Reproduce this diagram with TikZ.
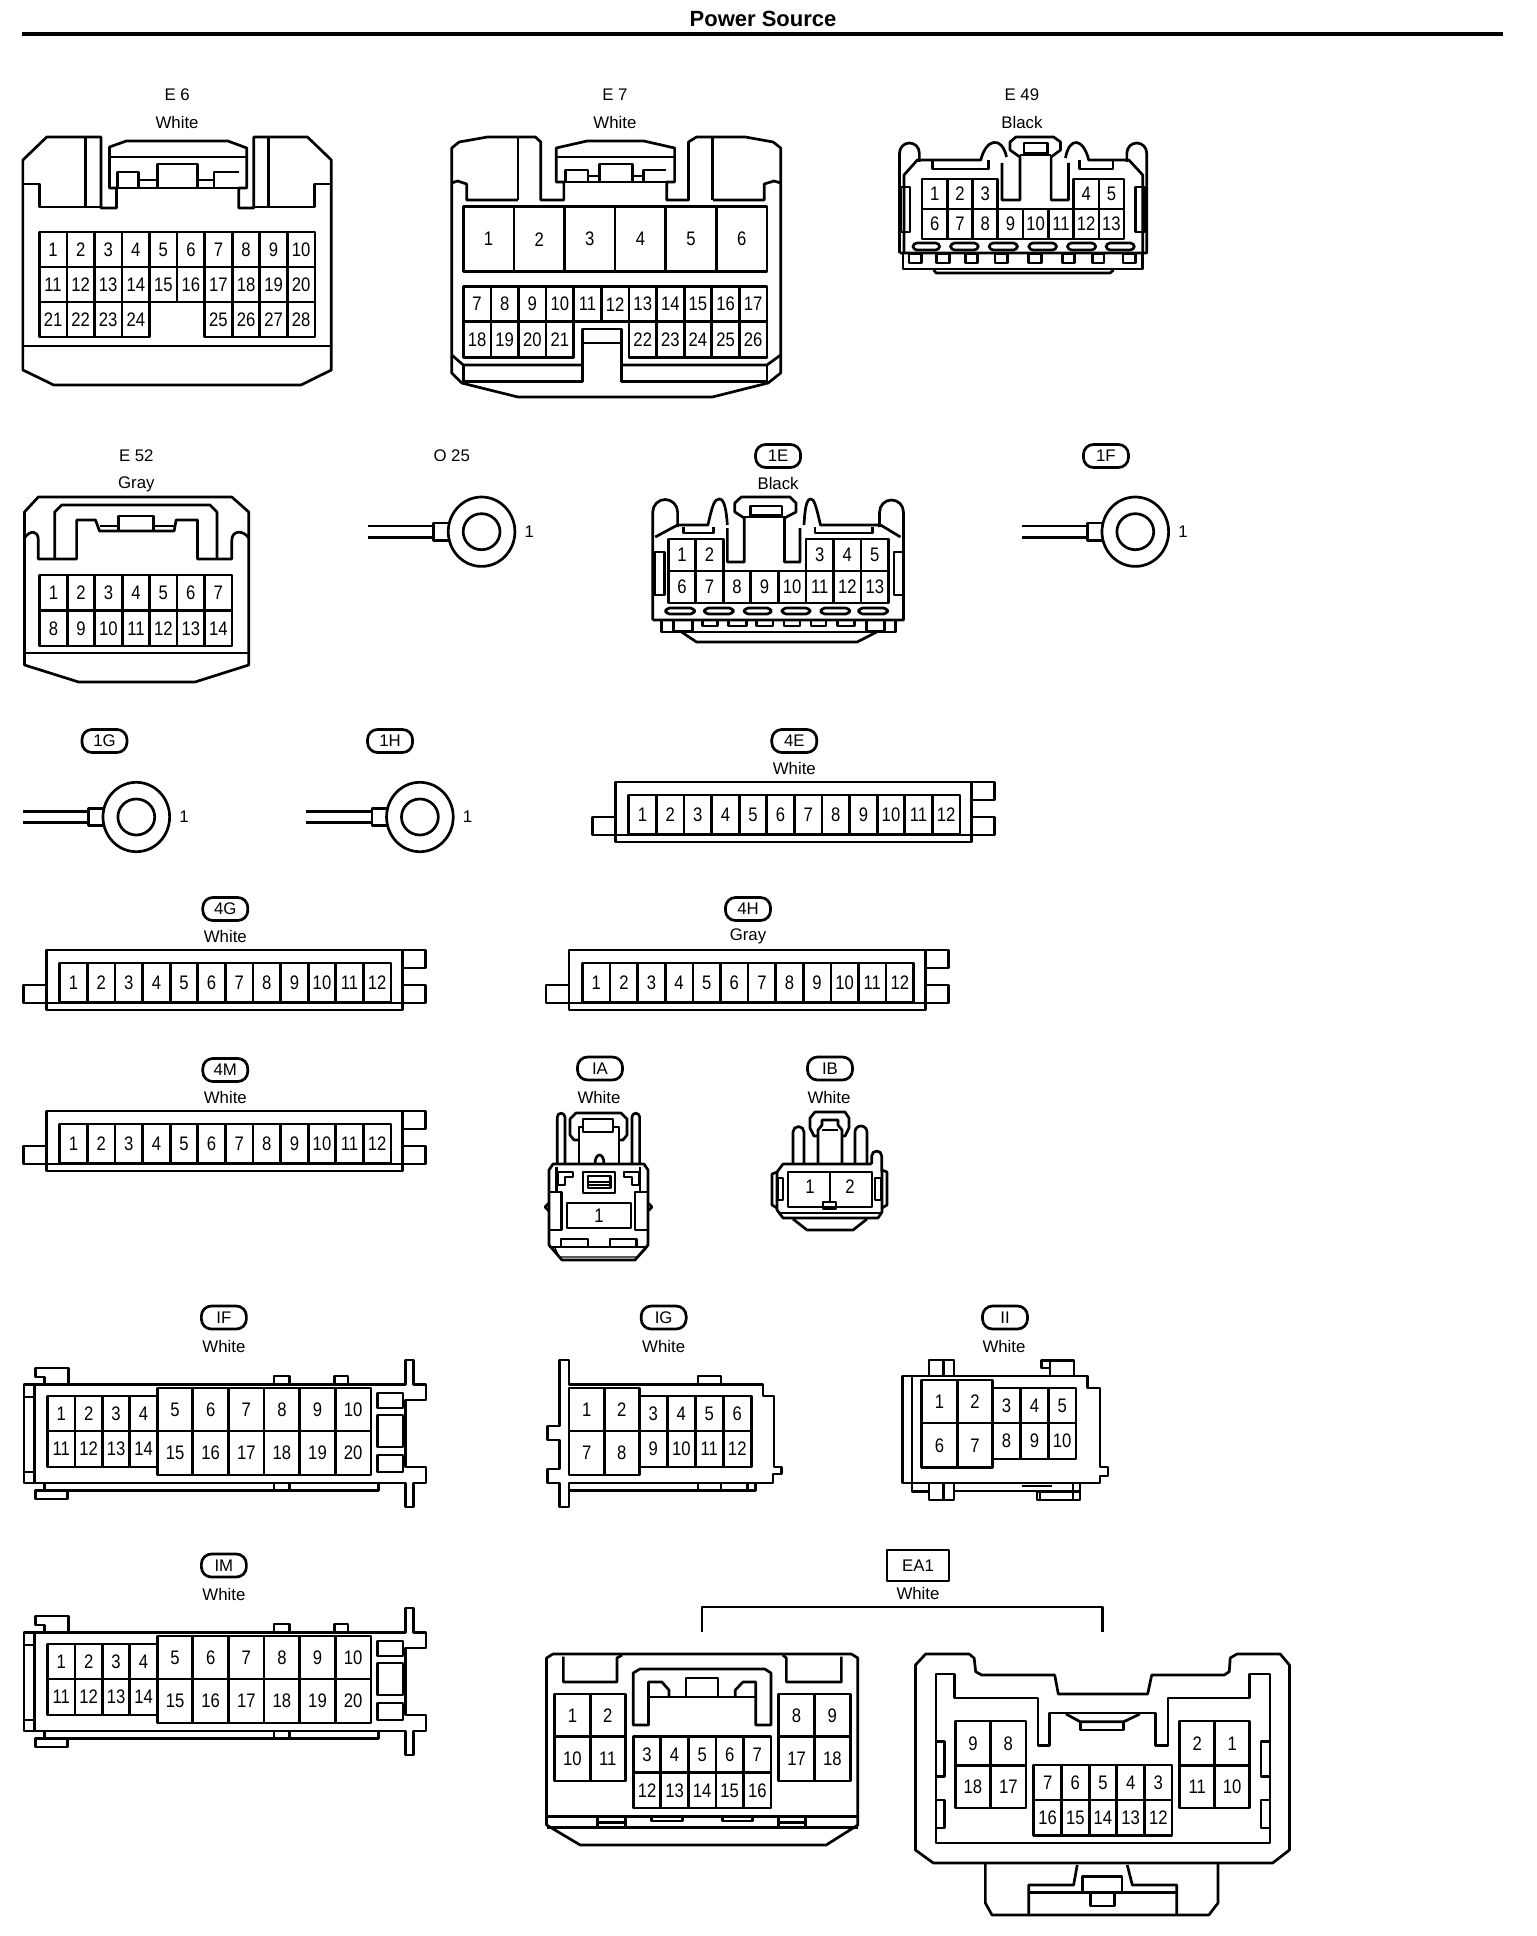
\documentclass[tikz,border=0pt]{standalone}
\usepackage{fontspec}
\setmainfont{Liberation Sans}
\newfontfamily\pinfont[FakeStretch=0.85]{Liberation Sans}
\tikzset{
  pinnum/.style={font=\pinfont\fontsize{9.8}{10}\selectfont},
  lab/.style={font=\fontsize{8.4}{10}\selectfont},
  pill/.style={draw,lab,rounded corners=5pt,minimum width=22.5pt,minimum height=11.5pt},
  tagbox/.style={draw,lab,minimum width=31pt,minimum height=15.5pt},
  headline/.style={font=\bfseries\fontsize{11}{12}\selectfont},
  narrow/.style={xscale=0.995},
  narrowb/.style={shift={(2.6,0)},xscale=0.995},
  narrowc/.style={shift={(7.5,0)},xscale=0.9906}
}
% one row of numbered cells: tag, x, y, cell width, cell height, numbers
\newcommand{\pinrow}[6]{%
  \foreach \pinno [count=\idx from 0] in {#6} {
    \draw [black] ({#2+\idx*#4},#3) rectangle ++(#4,#5);
    \node [pinnum] (#1-\pinno) at ({#2+(\idx+0.5)*#4},{#3+#5/2}) {\pinno};
  }}
% ring terminal: tag, x of the wire end, y of the ring centre
\newcommand{\ringterm}[3]{%
  \draw [black] (#2,#3-5.7) -- ++(66,0);
  \draw [black] (#2,#3+5.7) -- ++(66,0);
  \draw [black] (#2+81,#3-8.7) -- (#2+66,#3-8.7) -- (#2+66,#3+8.7) -- (#2+81,#3+8.7);
  \draw [black] (#2+114,#3) circle [x radius=33.5,y radius=34.7];
  \draw [black] (#2+114,#3) circle [x radius=18.5,y radius=18];
  \node [lab] (#1pin) at (#2+162,#3) {1};}
% long twelve way block: tag, colour, shift
\newcommand{\flatconn}[4]{%
  \begin{scope}[shift={(#3,#4)}]
  \node [pill] (#1tag) at (798,741) {#1};
  \node [lab] (#1col) at (798,768) {#2};
  \draw [black] (619,782) rectangle (975.4,842);
  \draw [black] (975.4,782) -- (998.5,782) -- (998.5,800) -- (975.4,800);
  \draw [black] (975.4,817) -- (998.5,817) -- (998.5,835) -- (975.4,835);
  \draw [black] (619,817) -- (596,817) -- (596,835) -- (619,835);
  \draw [black] (619,835) -- (975.4,835);
  \pinrow{#1}{632.5}{795}{27.6}{39}{1,...,12}
  \end{scope}}
% long twenty way block: tag, shift
\newcommand{\clipconn}[2]{%
  \begin{scope}[shift={(0,#2)}]
  \node [pill] (#1tag) at (225,1317.5) {#1};
  \node [lab] (#1col) at (225,1346) {White};
  \draw [black] (24,1384.5) -- (407.7,1384.5) -- (407.7,1360) -- (415.4,1360) -- (415.4,1384.5) -- (428,1384.5) -- (428,1400) -- (407.7,1400) -- (407.7,1467) -- (428,1467) -- (428,1483) -- (415.4,1483) -- (415.4,1507) -- (407.7,1507) -- (407.7,1483) -- (24,1483) -- cycle;
  \draw [black] (35,1384.5) -- (35,1483);
  \draw [black] (24,1397) -- (35,1397);
  \draw [black] (24,1472) -- (35,1472);
  \draw [black] (69,1384) -- (69,1368) -- (36,1368) -- (36,1377) -- (45,1377) -- (45,1384);
  \draw [black] (45,1483) -- (45,1490.7) -- (380.5,1490.7) -- (380.5,1483);
  \draw [black] (36,1490.7) rectangle (67.7,1499);
  \draw [black] (275.4,1384) -- (275.4,1376) -- (290.8,1376) -- (290.8,1384);
  \draw [black] (336,1384) -- (336,1376) -- (349.7,1376) -- (349.7,1384);
  \draw [black] (275.4,1483) -- (275.4,1490.7);
  \draw [black] (290.8,1483) -- (290.8,1490.7);
  \draw [black] (379.5,1393) rectangle (405,1408);
  \draw [black] (379.5,1415) rectangle (405,1447);
  \draw [black] (379.5,1455) rectangle (405,1472);
  \pinrow{#1}{47.7}{1396}{27.6}{35}{1,2,3,4}
  \pinrow{#1}{47.7}{1431}{27.6}{36}{11,12,13,14}
  \pinrow{#1}{158}{1388}{35.8}{43}{5,6,7,8,9,10}
  \pinrow{#1}{158}{1431}{35.8}{44}{15,16,17,18,19,20}
  \end{scope}}
\begin{document}
\begin{tikzpicture}[x=0.5pt,y=-0.5pt,line width=1.35pt,line join=round]
\tikzstyle{every node}+=[inner sep=0pt]
\useasboundingbox (0,0) rectangle (1536,1936);
\node [headline] (heading) at (763,18.5) {Power Source};
\draw [black,line width=2.4pt] (22.2,34) -- (1503,34);
\begin{scope}[narrow]
% E 6
\node [lab] (E6tag) at (178,95) {E 6};
\node [lab] (E6col) at (178,123) {White};
\draw [black] (23,160) -- (47,137) -- (101.5,137) -- (101.5,208) -- (117,208) -- (117,188) -- (110,188) -- (110,147) -- (127,141) -- (229,141) -- (248,148) -- (248,188) -- (240,188) -- (240,208) -- (255,208) -- (255,137) -- (309,137) -- (333,160) -- (333,370) -- (302.5,385) -- (54,385) -- (23,370) -- cycle;
\draw [black] (23,184) -- (39.5,184) -- (39.5,207) -- (101.5,207);
\draw [black] (333,184) -- (316,184) -- (316,207) -- (255,207);
\draw [black] (86,137) -- (86,207);
\draw [black] (270,137) -- (270,207);
\draw [black] (110,157) -- (248,157);
\draw [black] (110,188) -- (248,188);
\draw [black] (118,188) -- (118,172) -- (139.5,172) -- (139.5,188);
\draw [black] (158,188) -- (158,164) -- (198.5,164) -- (198.5,188);
\draw [black] (215,188) -- (215,172) -- (240,172);
\draw [black] (139.5,180) -- (158,180);
\draw [black] (198.5,180) -- (215,180);
\draw [black] (23,346) -- (333,346);
\pinrow{E6}{39.5}{232}{27.7}{35}{1,...,10}
\pinrow{E6}{39.5}{267}{27.7}{35}{11,...,20}
\pinrow{E6}{39.5}{302}{27.7}{35}{21,22,23,24}
\pinrow{E6}{205.7}{302}{27.7}{35}{25,26,27,28}
% E 7
\node [lab] (E7tag) at (618,95) {E 7};
\node [lab] (E7col) at (618,123) {White};
\draw [black] (454,148) -- (461.5,142) -- (490,137) -- (538,137) -- (543.5,142) -- (543.5,200) -- (566.7,200) -- (566.7,182) -- (559,182) -- (559,148) -- (590,141) -- (647,141) -- (678,148) -- (678,182) -- (670,182) -- (670,200) -- (692,200) -- (692,142) -- (700,137) -- (749,137) -- (777,142) -- (784.6,148) -- (784.6,373) -- (772,383) -- (716,397) -- (520.5,397) -- (464,383) -- (454,373) -- cycle;
\draw [black] (520.5,137) -- (520.5,200);
\draw [black] (716.4,137) -- (716.4,200);
\draw [black] (454,183) -- (460,181) -- (469,184) -- (469,200) -- (520.5,200);
\draw [black] (784.6,183) -- (778,181) -- (768,184) -- (768,200) -- (716.4,200);
\draw [black] (559,157) -- (678,157);
\draw [black] (566.7,182) -- (670,182);
\draw [black] (568,182) -- (568,170) -- (591,170) -- (591,182);
\draw [black] (602.5,182) -- (602.5,164) -- (636,164) -- (636,182);
\draw [black] (647,182) -- (647,170) -- (669,170);
\draw [black] (591,176) -- (602.5,176);
\draw [black] (636,176) -- (647,176);
\pinrow{E7}{465.6}{206.7}{50.87}{65}{1,...,6}
\pinrow{E7}{465.6}{286.7}{27.75}{35}{7,...,17}
\pinrow{E7}{465.6}{321.7}{27.75}{35.6}{18,19,20,21}
\pinrow{E7}{632.1}{321.7}{27.75}{35.6}{22,23,24,25,26}
\draw [black] (585.6,381.7) -- (585.6,329) -- (624.6,329) -- (624.6,381.7);
\draw [black] (585.6,343) -- (624.6,343);
\draw [black] (465.6,381.7) -- (585.6,381.7);
\draw [black] (624.6,381.7) -- (770.8,381.7);
\draw [black] (454,355) -- (465.6,365) -- (585.6,365);
\draw [black] (784.6,355) -- (770.8,365) -- (624.6,365);
\draw [black] (465.6,365) -- (465.6,381.7);
\draw [black] (770.8,365) -- (770.8,381.7);
\end{scope}
% E 49
\begin{scope}[narrowc]
\node [lab] (E49tag) at (1024,95) {E 49};
\node [lab] (E49col) at (1024,123) {Black};
\draw [black] (900.5,253) -- (900.5,153) arc (180:360:10) -- (920.5,162);
\draw [black] (1130,162) -- (1130,153) arc (180:360:10) -- (1150,253) -- (900.5,253);
\draw [black] (905,253) -- (905,175) -- (918.5,160) -- (982.5,160) .. controls (988,138) and (1004,136) .. (1008.5,157);
\draw [black] (1146,253) -- (1146,175) -- (1132,160) -- (1091.5,160) .. controls (1086,138) and (1072,136) .. (1068,158);
\draw [black] (934,160) -- (934,169) -- (990,169) -- (990,160);
\draw [black] (1082,160) -- (1082,169) -- (1116,169) -- (1116,160);
\draw [black] (1004,163) -- (1004,200) -- (1022,200) -- (1022,157) -- (1012,150) -- (1012,142) -- (1018,137) -- (1056,137) -- (1063,142) -- (1063,150) -- (1053.5,157) -- (1053.5,200) -- (1071,200) -- (1071,163);
\draw [black] (1022,155) -- (1053.5,155);
\draw [black] (1026,155) -- (1026,143) -- (1050,143) -- (1050,155);
\draw [black] (1026,153) -- (1050,153);
\draw [black] (902,187) rectangle (911,232);
\draw [black] (1139,187) rectangle (1148,232);
\foreach \slotx/\slotw in {914/27,952/28,991/28.5,1031/28,1070/28.6,1109/28.5} {
  \draw [black,rounded corners=2pt] (\slotx,243) rectangle ++(\slotw,7);
}
\draw [black] (904,254) -- (904,269) -- (1146,269) -- (1146,254);
\draw [black] (935,270) -- (937.4,273) -- (1113,273) -- (1116.6,270);
\foreach \tabx/\tabw in {910/13,938/13,967/12,997/12.5,1031/12.6,1065/12,1095/12,1126/13} {
  \draw [black] (\tabx,254) rectangle ++(\tabw,9);
}
\pinrow{E49}{923.2}{179}{25.5}{30}{1,2,3}
\pinrow{E49}{1076.2}{179}{25.5}{30}{4,5}
\pinrow{E49}{923.2}{209}{25.5}{30}{6,...,13}
\end{scope}
\begin{scope}[narrow]
% E 52
\node [lab] (E52tag) at (137,456) {E 52};
\node [lab] (E52col) at (137,484) {Gray};
\draw [black] (38.5,497) -- (233,497) -- (250,512) -- (250,665) -- (196,682) -- (79,682) -- (24.6,665) -- (24.6,512) -- cycle;
\draw [black] (24.6,653) -- (250,653);
\draw [black] (24.6,538) .. controls (30,530) and (38.5,530) .. (38.5,540) -- (38.5,559) -- (77,559) -- (77,520) -- (96,520) -- (100,531) -- (175,531) -- (177,520) -- (198.5,520) -- (198.5,559) -- (233,559) -- (233,540) .. controls (233,530) and (245,530) .. (250,538);
\draw [black] (55,559) -- (55,512) -- (62,505) -- (211,505) -- (218,512) -- (218,559);
\draw [black] (119,531) -- (119,516) -- (154,516) -- (154,531);
\draw [black] (100,526) -- (119,526);
\draw [black] (154,526) -- (175,526);
\pinrow{E52}{40}{575}{27.6}{35.7}{1,...,7}
\pinrow{E52}{40}{610.7}{27.6}{35.3}{8,...,14}
% ring terminals
\node [lab] (O25tag) at (454,456) {O 25};
\ringterm{O25}{370}{531.7}
\node [pill] (1Ftag) at (1111.5,456) {1F};
\ringterm{1F}{1027}{531.7}
\node [pill] (1Gtag) at (105,741) {1G};
\ringterm{1G}{23}{817}
\node [pill] (1Htag) at (392,741) {1H};
\ringterm{1H}{308}{817}
% 1E
\node [pill] (1Etag) at (782,456) {1E};
\node [lab] (1Ecol) at (782,483) {Black};
\draw [black] (656,620) -- (656,512) arc (180:360:12.5) -- (681,527);
\draw [black] (884,527) -- (884,512) arc (180:360:12) -- (908,620) -- (656,620);
\draw [black] (658.5,537) -- (681,525) -- (711.5,525) .. controls (716,505) and (718,499) .. (723,499) .. controls (728,499) and (730,510) .. (731,525);
\draw [black] (905,537) -- (885,525) -- (824.6,525) .. controls (820,505) and (818,499) .. (815,499) .. controls (810,499) and (809,510) .. (808,525);
\draw [black] (687,527) -- (687,533) -- (717,533) -- (717,527);
\draw [black] (819,527) -- (819,533) -- (877,533) -- (877,527);
\draw [black] (731,528) -- (731,562) -- (748,562) -- (748,518) -- (738.5,512) -- (738.5,503) -- (745,497) -- (794,497) -- (800,503) -- (800,512) -- (788.5,518) -- (788.5,562) -- (804,562) -- (804,528);
\draw [black] (748,517) -- (788.5,517);
\draw [black] (754,517) -- (754,506) -- (786,506) -- (786,517);
\draw [black] (754,515) -- (786,515);
\draw [black] (658,552) rectangle (668,595);
\draw [black] (898.5,552) rectangle (908,595);
\foreach \slotx/\slotw in {669/29,708/29,748/27,786/28,825/29,863/29} {
  \draw [black,rounded corners=2pt] (\slotx,608) rectangle ++(\slotw,6);
}
\draw [black] (665,620) -- (665,632) -- (900,632) -- (900,620);
\draw [black] (685,632) -- (700,642) -- (861.5,642) -- (881,632);
\foreach \tabx/\tabw/\tabh in {677/19/11,706/15/6,732/18/6,760/17/6,788/16/6,815/15/6,842/17/6,871/18/11} {
  \draw [black] (\tabx,620) rectangle ++(\tabw,\tabh);
}
\pinrow{1E}{671.5}{539}{27.7}{32}{1,2}
\pinrow{1E}{810}{539}{27.7}{32}{3,4,5}
\pinrow{1E}{671.5}{571}{27.7}{32}{6,...,13}
\end{scope}
% twelve way blocks
\flatconn{4E}{White}{-3.7}{0}
\flatconn{4G}{White}{-572.7}{168}
\flatconn{4H}{Gray}{-50}{168}
\flatconn{4M}{White}{-572.7}{329}
% IA
\node [pill] (IAtag) at (600,1068.5) {IA};
\node [lab] (IAcol) at (599,1097) {White};
\draw [black] (557.3,1164) -- (557.3,1117) arc (180:360:3.8) -- (565,1164);
\draw [black] (632,1164) -- (632,1117) arc (180:360:3.8) -- (639.6,1164);
\draw [black] (579,1140) -- (574,1140) -- (570,1135) -- (570,1119) -- (576,1113) -- (621,1113) -- (627,1119) -- (627,1135) -- (623,1140) -- (619,1140);
\draw [black] (583,1119) rectangle (613,1132);
\draw [black] (579,1164) -- (579,1127) -- (583,1127);
\draw [black] (619,1164) -- (619,1127) -- (613,1127);
\draw [black] (595,1164) .. controls (595,1152) and (604,1152) .. (604,1164);
\draw [black] (549,1245) -- (549,1170) -- (553,1164) -- (644,1164) -- (648,1170) -- (648,1245) -- (635,1260) -- (562,1260) -- cycle;
\draw [black] (556.7,1167) -- (556.7,1192);
\draw [black] (640,1167) -- (640,1192);
\draw [black] (549,1192) -- (561.7,1192) -- (561.7,1230) -- (549,1230);
\draw [black] (648,1192) -- (635,1192) -- (635,1230) -- (648,1230);
\draw [black] (549,1203) -- (545,1207) -- (549,1211);
\draw [black] (648,1203) -- (652,1207) -- (648,1211);
\draw [black] (583,1172) rectangle (615,1193);
\draw [black] (588,1176) rectangle (610.7,1188);
\draw [black] (588,1182) -- (610.7,1182);
\draw [black] (588,1185) -- (610.7,1185);
\draw [black] (558,1172) -- (573,1172) -- (573,1177) -- (565,1177) -- (565,1185) -- (558,1185) -- cycle;
\draw [black] (639,1172) -- (624,1172) -- (624,1177) -- (632,1177) -- (632,1185) -- (639,1185) -- cycle;
\node [draw,minimum width=32pt,minimum height=12.5pt,pinnum] (IA-1) at (599,1215.5) {1};
\draw [black] (561,1247) -- (561,1239) -- (588,1239) -- (588,1247);
\draw [black] (610,1247) -- (610,1239) -- (636.7,1239) -- (636.7,1247);
\draw [black] (549,1247) -- (648,1247);
\draw [black,line width=0.7pt] (555,1248) -- (559,1257) -- (638,1257) -- (646.7,1248);
% IB
\node [pill] (IBtag) at (830,1068.5) {IB};
\node [lab] (IBcol) at (829,1097) {White};
\draw [black] (818,1136) -- (814,1136) -- (810,1128) -- (810,1118) -- (815,1112) -- (845,1112) -- (849,1118) -- (849,1128) -- (845,1136) -- (842,1136);
\draw [black] (818,1164) -- (818,1130) -- (822,1125) -- (822,1120) -- (838,1120) -- (838,1125) -- (842,1130) -- (842,1164);
\draw [black] (822,1130) -- (838,1130);
\draw [black] (793,1164) -- (793,1132) arc (180:360:5.5) -- (804,1164);
\draw [black] (855,1164) -- (855,1132) arc (180:360:6) -- (867,1164);
\draw [black] (871.7,1164) -- (871.7,1156) arc (180:360:5) -- (881.7,1172);
\draw [black] (777,1172) -- (783,1164) -- (871.7,1164);
\draw [black] (777,1172) -- (777,1210) -- (783,1218) -- (878,1218) -- (882,1212) -- (882,1172);
\draw [black] (777,1172) -- (772,1174) -- (772,1205) -- (777,1208);
\draw [black] (882,1170) -- (887,1172) -- (887,1205) -- (882,1208);
\draw [black] (778,1178) rectangle (783,1200);
\draw [black] (875,1178) rectangle (881,1200);
\draw [black] (788,1172) rectangle (872,1207);
\draw [black] (830,1172) -- (830,1202);
\draw [black] (823,1202) rectangle (836,1209);
\node [pinnum] (IB-1) at (810,1187) {1};
\node [pinnum] (IB-2) at (850,1187) {2};
\draw [black] (779,1213) -- (882,1213);
\draw [black] (793,1219) -- (807,1230) -- (853,1230) -- (867,1219);
\begin{scope}[narrow]
% IF, IM
\clipconn{IF}{0}
\clipconn{IM}{248}
% IG
\node [pill] (IGtag) at (667,1317.5) {IG};
\node [lab] (IGcol) at (667,1346) {White};
\draw [black] (562.5,1360) -- (572,1360) -- (572,1384.5) -- (766.7,1384.5) -- (766.7,1396) -- (778,1396) -- (778,1467) -- (785.6,1467) -- (785.6,1474) -- (777,1474) -- (777,1483) -- (572,1483) -- (572,1507) -- (562.5,1507) -- (562.5,1483) -- (550,1483) -- (550,1469) -- (562.5,1469) -- (562.5,1440) -- (550,1440) -- (550,1426) -- (562.5,1426) -- cycle;
\draw [black] (701.5,1384) -- (701.5,1376) -- (724.6,1376) -- (724.6,1384);
\draw [black] (572,1490.7) -- (759,1490.7) -- (759,1483);
\draw [black] (701.5,1483) -- (701.5,1490.7);
\draw [black] (724.6,1483) -- (724.6,1490.7);
\draw [black] (751,1483) -- (751,1490.7);
\pinrow{IG}{572}{1388}{35.3}{43}{1,2}
\pinrow{IG}{572}{1431}{35.3}{44}{7,8}
\pinrow{IG}{642.6}{1396}{28.1}{35}{3,4,5,6}
\pinrow{IG}{642.6}{1431}{28.1}{36}{9,10,11,12}
\end{scope}
% II
\node [pill] (IItag) at (1005,1317.5) {II};
\node [lab] (IIcol) at (1004,1346) {White};
\draw [black] (902.3,1376) -- (1087.7,1376) -- (1087.7,1388) -- (1100,1388) -- (1100,1467) -- (1108,1467) -- (1108,1476) -- (1100,1476) -- (1100,1483) -- (902.3,1483) -- cycle;
\draw [black] (912,1376) -- (912,1491.5) -- (929,1491.5);
\draw [black] (954,1491) -- (1037,1491);
\draw [black] (929,1376) -- (929,1360) -- (954,1360) -- (954,1376);
\draw [black] (943.3,1360) -- (943.3,1376);
\draw [black] (1050,1376) -- (1050,1368) -- (1041.7,1368) -- (1041.7,1360.7) -- (1074,1360.7) -- (1074,1376);
\draw [black] (1050,1360.7) -- (1050,1368);
\draw [black] (929,1483) -- (929,1500) -- (954,1500) -- (954,1483);
\draw [black] (943.3,1483) -- (943.3,1500);
\draw [black] (1037,1491) -- (1037,1500) -- (1080,1500) -- (1080,1483);
\draw [black] (1073,1483) -- (1073,1500);
\draw [black] (1037,1491.7) -- (1080,1491.7);
\draw [black] (1040,1491.7) -- (1040,1500);
\draw [black,line width=0.7pt] (1021.7,1486) -- (1051.7,1486);
\pinrow{II}{921.7}{1380}{35.5}{43}{1,2}
\pinrow{II}{921.7}{1423}{35.5}{44.7}{6,7}
\pinrow{II}{992.7}{1388}{27.8}{35}{3,4,5}
\pinrow{II}{992.7}{1423}{27.8}{36}{8,9,10}
% EA1
\node [tagbox] (EA1tag) at (918,1565.5) {EA1};
\node [lab] (EA1col) at (918,1593) {White};
\begin{scope}[narrowb]
\coordinate (bracketl) at (703,1631.7);
\coordinate (bracketm) at (905,1607);
\coordinate (bracketr) at (1105.6,1631.7);
\draw [black] (bracketl) |- (bracketm) -| (bracketr);
% EA1 left half
\draw [black] (546.7,1658) -- (553,1654) -- (853,1654) -- (859.5,1658) -- (859.5,1825) -- (827.7,1845) -- (580.5,1845) -- (546.7,1825) -- cycle;
\draw [black] (563.6,1656.7) -- (563.6,1682) -- (617.4,1682) -- (617.4,1658) -- (622.6,1655);
\draw [black] (843,1656.7) -- (843,1682) -- (787.7,1682) -- (787.7,1658) -- (784,1655);
\draw [black] (633.8,1682) -- (633.8,1725) -- (649.2,1725) -- (649.2,1682) -- (662.6,1682) -- (669.7,1690) -- (669.7,1697);
\draw [black] (633.8,1682) -- (633.8,1673) -- (640.5,1669) -- (766,1669) -- (772.3,1673) -- (772.3,1725) -- (757,1725) -- (757,1682) -- (744,1682) -- (736.4,1690) -- (736.4,1697);
\draw [black] (649.2,1697) -- (757,1697);
\draw [black] (686.7,1697) -- (686.7,1678) -- (719,1678) -- (719,1697);
\pinrow{EAl}{555}{1694}{35.5}{42.7}{1,2}
\pinrow{EAl}{555}{1736.7}{35.5}{44.3}{10,11}
\pinrow{EAl}{633.8}{1736.7}{27.7}{36}{3,...,7}
\pinrow{EAl}{633.8}{1772.7}{27.7}{35.3}{12,...,16}
\pinrow{EAl}{780}{1694}{35.9}{42.7}{8,9}
\pinrow{EAl}{780}{1736.7}{35.9}{44.3}{17,18}
\draw [black] (546.7,1816.7) -- (859.5,1816.7);
\draw [black] (546.7,1827.3) -- (859.5,1827.3);
\draw [black] (598,1816.7) rectangle (626,1827.3);
\draw [black] (780,1816.7) rectangle (807,1827.3);
\draw [black] (598,1822.7) -- (626,1822.7);
\draw [black] (780,1822.7) -- (807,1822.7);
\draw [black] (652,1817) -- (652,1821) -- (683,1821) -- (683,1817);
\draw [black] (723.6,1817) -- (723.6,1821) -- (754,1821) -- (754,1817);
% EA1 right half
\draw [black] (917.4,1665) -- (927.7,1654) -- (971.3,1654) -- (976.4,1658) -- (978,1671.7) -- (984,1675) -- (1057.4,1675) -- (1061,1694) -- (1150.8,1694) -- (1154.9,1675) -- (1227.7,1675) -- (1232.8,1671.7) -- (1233.8,1658) -- (1240.5,1654) -- (1284,1654) -- (1293.3,1665) -- (1293.3,1850) -- (1276.4,1863) -- (935.4,1863) -- (917.4,1850) -- cycle;
\draw [black] (938,1674) -- (957,1674) -- (957,1698) -- (1040.5,1698) -- (1040.5,1745.7) -- (1051.8,1745.7) -- (1051.8,1713) -- (1158.5,1713) -- (1158.5,1745.7) -- (1171.3,1745.7) -- (1171.3,1698) -- (1253.3,1698) -- (1253.3,1674) -- (1273.8,1674) -- (1273.8,1843) -- (938,1843) -- cycle;
\draw [black] (1068.7,1714) -- (1083,1721.7) -- (1126.7,1721.7) -- (1143,1714);
\draw [black] (1083,1721.7) -- (1083,1730) -- (1126.7,1730) -- (1126.7,1721.7);
\foreach \taby/\tabh in {1741.7/35,1800/28} {
  \draw [black] (938,\taby) rectangle ++(8.7,\tabh);
  \draw [black] (1264.6,\taby) rectangle ++(9.2,\tabh);
}
\pinrow{EAr}{957.4}{1721}{35.6}{44.7}{9,8}
\pinrow{EAr}{957.4}{1765.7}{35.6}{42.3}{18,17}
\pinrow{EAr}{1036.4}{1765}{27.8}{35}{7,6,5,4,3}
\pinrow{EAr}{1036.4}{1800}{27.8}{35.7}{16,15,14,13,12}
\pinrow{EAr}{1183}{1721}{35.2}{44.7}{2,1}
\pinrow{EAr}{1183}{1765.7}{35.2}{42.3}{11,10}
\draw [black] (987.7,1863) -- (987.7,1903) -- (994.4,1915) -- (1212.3,1915) -- (1221.5,1903) -- (1221.5,1863);
\draw [black] (1031.3,1915) -- (1031.3,1885) -- (1076.4,1885) -- (1080,1865);
\draw [black] (1180,1915) -- (1180,1885) -- (1135.4,1885) -- (1130.3,1865);
\draw [black] (1031.3,1892.3) -- (1180,1892.3);
\draw [black] (1085,1892.3) -- (1085,1876.7) -- (1125,1876.7) -- (1125,1892.3);
\draw [black] (1093.3,1892.3) -- (1093.3,1906) -- (1117.4,1906) -- (1117.4,1892.3);
\end{scope}
\end{tikzpicture}
\end{document}
